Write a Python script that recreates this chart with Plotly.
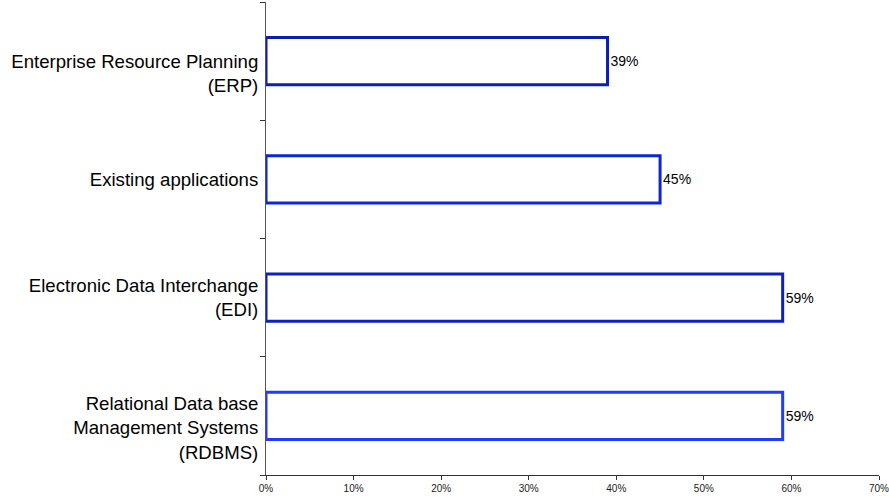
import plotly.graph_objects as go

categories = [
    "Enterprise Resource Planning (ERP)",
    "Existing applications",
    "Electronic Data Interchange (EDI)",
    "Relational Data base Management Systems (RDBMS)",
]
category_tick_text = [
    " <br>Enterprise Resource Planning<br>(ERP)",
    "Existing applications",
    "Electronic Data Interchange<br>(EDI)",
    " <br>Relational Data base<br>Management Systems<br>(RDBMS)",
]
values = [0.39, 0.45, 0.59, 0.59]
value_labels = ["39%", "45%", "59%", "59%"]
x_ticks = [0, 0.1, 0.2, 0.3, 0.4, 0.5, 0.6, 0.7]
x_tick_labels = ["0%", "10%", "20%", "30%", "40%", "50%", "60%", "70%"]
outline_colors = ["#0c1eb0", "#0c26d0", "#0d22bc", "#1f3cff"]

fig = go.Figure()
fig.add_trace(go.Bar(
    y=categories,
    x=values,
    orientation="h",
    width=0.4,
    marker=dict(color="white", line=dict(color=outline_colors, width=3)),
    text=value_labels,
    textposition="outside",
    textfont=dict(family="Liberation Sans, Arial", size=14, color="black"),
    cliponaxis=False,
    hoverinfo="skip",
))

fig.update_layout(
    width=889,
    height=497,
    margin=dict(l=266, r=10, t=2, b=22),
    paper_bgcolor="white",
    plot_bgcolor="white",
    showlegend=False,
    font=dict(family="Liberation Sans, Arial", color="black"),
    xaxis=dict(
        range=[0, 0.7],
        tickvals=x_ticks,
        ticktext=x_tick_labels,
        showgrid=False,
        zeroline=False,
        showline=True,
        linecolor="#333333",
        linewidth=1,
        ticks="outside",
        ticklen=4,
        tickcolor="#333333",
        tickfont=dict(size=10, color="#222222"),
        ticklabeloverflow="allow",
        automargin=False,
    ),
    yaxis=dict(
        autorange="reversed",
        type="category",
        tickvals=categories,
        ticktext=category_tick_text,
        showgrid=False,
        zeroline=False,
        showline=True,
        linecolor="#555555",
        linewidth=1,
        ticks="outside",
        tickson="boundaries",
        ticklen=5,
        tickcolor="#333333",
        tickfont=dict(size=18.6, color="black"),
        ticklabelstandoff=3,
        automargin=False,
    ),
)

fig.write_html(
    "out.html",
    config={"displayModeBar": False},
    post_script="document.body.style.margin='0';document.body.style.overflow='hidden';",
)
